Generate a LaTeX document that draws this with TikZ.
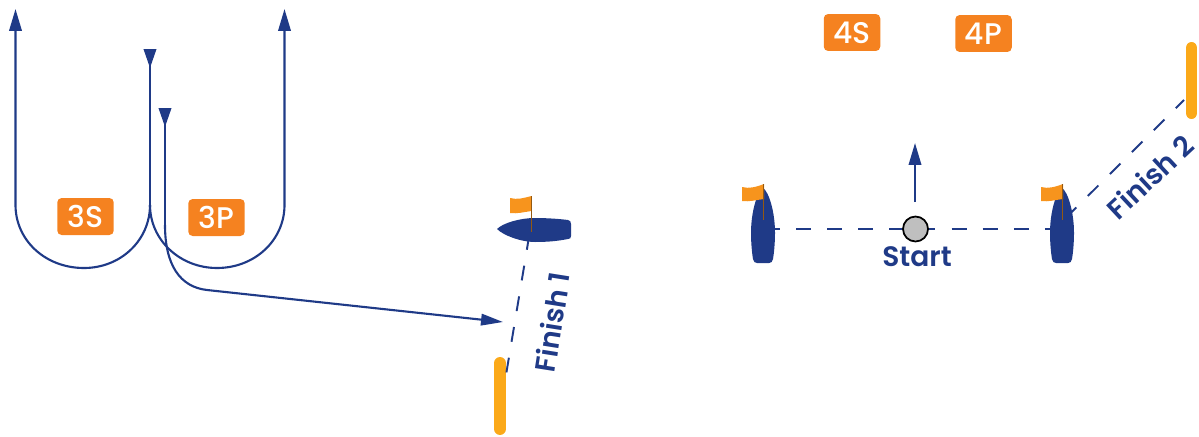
\documentclass[tikz,border=0pt]{standalone}
\usepackage{fontspec}
\setmainfont{Poppins}
\newfontfamily\labelfont{Poppins SemiBold}
\newfontfamily\tagfont{Poppins Medium}
\usepackage{xcolor}
\usetikzlibrary{arrows.meta, calc}

\definecolor{navy}{HTML}{1F3A87}
\definecolor{tagorange}{HTML}{F58220}
\definecolor{flagorange}{HTML}{F7941D}
\definecolor{markyellow}{HTML}{FBA919}

\begin{document}
\begin{tikzpicture}[
  x=0.02cm, y=-0.02cm,
  track/.style   = {draw=navy, line width=1.2pt},
  tipup/.style   = {-{Triangle[length=0.44cm, width=0.25cm]}},
  tipdown/.style = {-{Triangle[reversed, length=0.38cm, width=0.25cm]}},
  line/.style    = {navy, line width=1.1pt, dash pattern=on 8.5pt off 9.2pt},
  hull/.style    = {fill=navy},
  flag/.style    = {fill=flagorange},
  pole/.style    = {draw=flagorange!60!black, line width=0.5pt},
  bar/.style     = {markyellow, line width=6.8pt, line cap=round},
  tag/.style     = {fill=tagorange, text=white, rounded corners=2.5pt, font=\tagfont\fontsize{17}{17}\selectfont,
                    minimum width=1.13cm, minimum height=0.74cm, inner sep=0pt},
  label/.style   = {text=navy, font=\labelfont\fontsize{16}{16}\selectfont, inner sep=0pt},
]
\useasboundingbox (0,0) rectangle (1199,436);

% ── LEFT: TURNS AND FINISH 1 ────────────────────────────────────────────────
\coordinate (split) at (150,205);
\coordinate (endA) at (150,49);
\coordinate (endB) at (165,108);

% Turns
\draw[track, tipup] (split) .. controls (150,240) and (121,268) .. (84,268)
  .. controls (45,268) and (15.5,240) .. (15.5,205) -- (15.5,9);
\draw[track, tipup] (split) .. controls (150,240) and (180,268) .. (217,268)
  .. controls (255,268) and (284.5,240) .. (284.5,205) -- (284.5,9);
\draw[track, tipdown] (split) -- (endA);

% Run in to the line
\draw[track, tipdown] (165,225) -- (endB);
\draw[track, -{Triangle[length=0.44cm, width=0.23cm]}]
  (165,225) .. controls (165,265) and (180,287) .. (207,290) -- (503,322);

\node[tag] (tagS) at (85.5,216.5) {3S};
\node[tag] (tagP) at (216.5,217.5) {3P};

% Finish 1
\coordinate (boatA) at (529.3,235);
\coordinate (markA) at (506,375);
\draw[bar] (500,363) -- (500,429);
\draw[line] (boatA) -- (markA);
\fill[hull] (497,229) .. controls (503,223) and (520,218) .. (535,218)
  .. controls (548,218) and (560,219) .. (568,220) .. controls (570,220) and (571,222) .. (571,224)
  -- (571,236) .. controls (571,238) and (570,239) .. (568,239)
  .. controls (558,241) and (548,242) .. (535,242) .. controls (520,242) and (503,235) .. cycle;
\fill[flag] (510,198) .. controls (517,200) and (524,198) .. (531.5,196) -- (531.5,211)
  .. controls (524,212) and (517,214) .. (510,213) -- cycle;
\draw[pole] (531,196) -- (531,232);
\node[label, rotate=81] (finishA) at (552,322) {Finish 1};

% ── RIGHT: START AND FINISH 2 ───────────────────────────────────────────────
\coordinate (boatB) at (765,229);
\coordinate (boatC) at (1062,229);
\draw[line] (boatB) -- (boatC);

% Finish 2
\coordinate (boatD) at (1065.8,218);
\coordinate (markB) at (1184,100);
\draw[line] (boatD) -- (markB);
\draw[bar] (1191.5,48) -- (1191.5,113);
\node[label, rotate=43] (finishB) at (1150,177) {Finish 2};

% Hulls
\foreach \ox in {763,1062}{
  \fill[hull] (\ox,188) .. controls (\ox+6,192) and (\ox+12,212) .. (\ox+12,233)
    .. controls (\ox+12,243) and (\ox+11,253) .. (\ox+10,259) .. controls (\ox+9.5,262) and (\ox+8,263) .. (\ox+6,263)
    -- (\ox-6,263) .. controls (\ox-8,263) and (\ox-9.5,262) .. (\ox-10,259)
    .. controls (\ox-11,253) and (\ox-12,243) .. (\ox-12,233) .. controls (\ox-12,212) and (\ox-6,192) .. cycle;
  \fill[flag] (\ox-21,187) .. controls (\ox-14,189) and (\ox-7,187) .. (\ox+1,184) -- (\ox+1,199)
    .. controls (\ox-7,200) and (\ox-14,202) .. (\ox-21,201) -- cycle;
  \draw[pole] (\ox+0.5,184) -- (\ox+0.5,220);
}

% Start
\node[circle, draw=black, fill=gray!50, line width=1pt, minimum size=0.5cm, inner sep=0pt] (start) at (915.5,229) {};
\coordinate (heading) at (915,143);
\draw[track, tipup] (915,202) -- (heading);
\node[label] (startlabel) at (917,257) {Start};

\node[tag] (tagSfour) at (852,32.5) {4S};
\node[tag] (tagPfour) at (983.5,33.5) {4P};

\end{tikzpicture}
\end{document}
